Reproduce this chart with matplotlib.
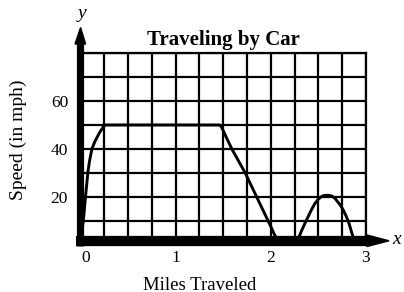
import matplotlib
matplotlib.use("Agg")
import matplotlib.pyplot as plt
from matplotlib.transforms import ScaledTranslation
from matplotlib.patches import Polygon

# ---- data ----
miles = [0, 0.01, 0.02, 0.035, 0.05, 0.065, 0.077, 0.095, 0.12, 0.15, 0.18, 0.2,
         0.22, 0.24, 0.26, 1.46, 1.48, 1.5, 1.53, 1.59, 1.66, 1.73, 1.79, 1.85,
         1.91, 1.97, 2.0, 2.03, 2.06, 2.09, 2.12, 2.15, 2.27, 2.29, 2.32, 2.36,
         2.39, 2.42, 2.46, 2.5, 2.53, 2.56, 2.6, 2.64, 2.67, 2.7, 2.73, 2.76,
         2.79, 2.82, 2.85, 2.88]
speed = [0, 4, 7, 12, 19, 25, 30, 35, 40, 43, 45.3, 46.8,
         48, 49.2, 50, 50, 49.3, 47.6, 45, 40, 35, 30, 25, 20,
         15, 10, 7.5, 4.8, 2.5, 1, 0.2, 0, 0, 2.5, 5.5, 9,
         11.5, 14, 17, 19, 20, 20.5, 20.6, 20.3, 19.5, 18, 16.5, 14.5,
         12, 9, 5, 1]
x_ticks = [0, 1, 2, 3]
x_tick_labels = ["0", "1", "2", "3"]
y_ticks = [20, 40, 60]
y_tick_labels = ["20", "40", "60"]
x_grid_step = 0.25
y_grid_step = 10
x_max = 3
y_max = 80
title = "Traveling by Car"
x_label = "Miles Traveled"
y_label = "Speed (in mph)"

W, H = 404, 292
fig = plt.figure(figsize=(W / 100, H / 100), dpi=100)
fig.patch.set_facecolor("white")

# axes placement in pixels
L, R, T, B = 80.5, 366.0, 53.3, 244.5
ax = fig.add_axes([L / W, (H - B) / H, (R - L) / W, (B - T) / H])
ax.set_xlim(0, x_max)
ax.set_ylim(0, y_max)

serif = ["Liberation Serif", "DejaVu Serif"]

# grid
n_x = int(round(x_max / x_grid_step))
n_y = int(round(y_max / y_grid_step))
ax.set_xticks([i * x_grid_step for i in range(n_x + 1)], minor=True)
ax.set_yticks([i * y_grid_step for i in range(n_y + 1)], minor=True)
ax.set_xticks(x_ticks)
ax.set_xticklabels(x_tick_labels, family=serif, fontsize=12.5)
ax.set_yticks(y_ticks)
ax.set_yticklabels(y_tick_labels, family=serif, fontsize=12.5)
ax.grid(True, which="both", color="black", linewidth=1.6)
ax.tick_params(which="both", length=0)
ax.tick_params(axis="x", pad=4)
ax.tick_params(axis="y", pad=9)
ax.set_axisbelow(True)

# shift the "0" label slightly right as in the reference
lbl0 = ax.get_xticklabels()[0]
lbl0.set_transform(lbl0.get_transform() + ScaledTranslation(5 / 100, 0, fig.dpi_scale_trans))

for s in ["left", "bottom"]:
    ax.spines[s].set_visible(False)
for s in ["top", "right"]:
    ax.spines[s].set_linewidth(1.6)

# curve
ax.plot(miles, speed, color="black", linewidth=2.1, solid_joinstyle="round",
        solid_capstyle="round", zorder=3, clip_on=False)

# thick axes with arrows (decoration, axes coords)
aw, ah = (R - L), (B - T)
def px(xp, yp):
    return ((xp - L) / aw, (B - yp) / ah)

# y axis band
x0, y0 = px(80.3, 246)
x1, y1 = px(80.3, 43)
ax.plot([x0, x1], [y0, y1], transform=ax.transAxes, color="black", lw=5.2,
        solid_capstyle="butt", clip_on=False, zorder=4)
head = Polygon([px(75, 44), px(85.6, 44), px(80.6, 27.5)], closed=True,
               transform=ax.transAxes, color="black", clip_on=False, zorder=4)
ax.add_patch(head)

# x axis band
x0, y0 = px(76, 240.8)
x1, y1 = px(368, 240.8)
ax.plot([x0, x1], [y0, y1], transform=ax.transAxes, color="black", lw=7.4,
        solid_capstyle="butt", clip_on=False, zorder=4)
head = Polygon([px(367, 235), px(367, 246.5), px(389, 240.8)], closed=True,
               transform=ax.transAxes, color="black", clip_on=False, zorder=4)
ax.add_patch(head)

# texts
fig.text(223 / W, 1 - 45 / H, title, ha="center", va="baseline",
         family=serif, fontweight="bold", fontsize=15)
fig.text(200 / W, 1 - 285 / H, x_label, ha="center", va="center",
         family=serif, fontsize=13.5)
fig.text(18 / W, 1 - 140 / H, y_label, ha="center", va="center", rotation=90,
         family=serif, fontsize=14)
fig.text(81.5 / W, 1 - 13 / H, "y", ha="center", va="center",
         family=serif, style="italic", fontsize=14)
fig.text(397 / W, 1 - 239 / H, "x", ha="center", va="center",
         family=serif, style="italic", fontsize=14)

fig.savefig("out.png", dpi=100, facecolor="white")
